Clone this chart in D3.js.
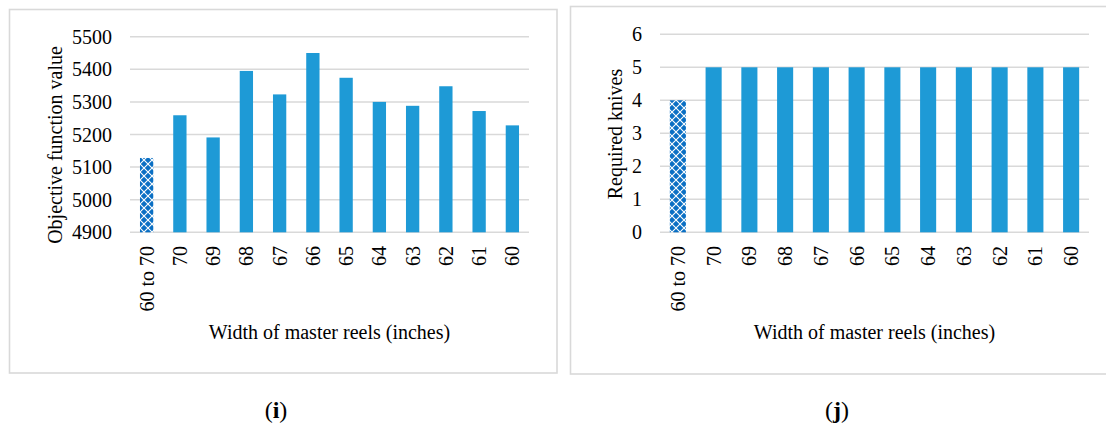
<!DOCTYPE html>
<html><head><meta charset="utf-8">
<script src="https://cdn.jsdelivr.net/npm/d3@7"></script>
<style>body{margin:0;background:#fff}svg{display:block}</style>
</head><body>
<svg id="c" width="1106" height="425" font-family="Liberation Serif"></svg>
<script>
const categories = ["60 to 70","70","69","68","67","66","65","64","63","62","61","60"];
const objectiveValues = [5128,5259,5191,5395,5323,5450,5374,5300,5288,5348,5272,5228];
const knivesValues = [4,5,5,5,5,5,5,5,5,5,5,5];
const objTicks = [4900,5000,5100,5200,5300,5400,5500];
const knifeTicks = [0,1,2,3,4,5,6];

const FONT = "Liberation Serif";
const FS = 20;
const svg = d3.select("#c");
const defs = svg.append("defs");
const pat = defs.append("pattern").attr("id","hatch").attr("patternUnits","userSpaceOnUse")
  .attr("width",8).attr("height",8);
pat.append("rect").attr("width",8).attr("height",8).attr("fill","#0a6fc4");
pat.append("path").attr("d","M0,0L8,8M8,0L0,8").attr("stroke","#fff").attr("stroke-width",1.1);

const GRID="#d9d9d9", BAR="#1e9ad6";

function panel(o){
  const g = svg.append("g").attr("font-family",FONT).attr("fill","#000");
  g.append("rect").attr("x",o.frame[0]).attr("y",o.frame[1]).attr("width",o.frame[2]).attr("height",o.frame[3])
    .attr("fill","none").attr("stroke",GRID).attr("stroke-width",1.6);
  const x = d3.scaleBand().domain(categories).range([o.x0,o.x1]).paddingInner(o.pad).paddingOuter(o.pad/2);
  const y = d3.scaleLinear().domain(o.domain).range([232.3, o.ytop]);
  g.append("g").selectAll("line").data(o.ticks).join("line")
    .attr("x1",o.x0).attr("x2",o.x1).attr("y1",d=>y(d)).attr("y2",d=>y(d))
    .attr("stroke",GRID).attr("stroke-width",1.5);
  g.append("g").selectAll("text").data(o.ticks).join("text")
    .attr("font-family",FONT)
    .attr("x",o.labelX).attr("y",d=>y(d)).attr("dy","0.35em").attr("text-anchor","end")
    .attr("font-size",FS).text(d=>d);
  g.append("g").selectAll("rect").data(o.values).join("rect")
    .attr("x",(d,i)=>x(categories[i])).attr("width",x.bandwidth())
    .attr("y",d=>y(d)).attr("height",d=>y(o.domain[0])-y(d))
    .attr("fill",(d,i)=>i===0?"url(#hatch)":BAR);
  g.append("g").selectAll("text").data(categories).join("text")
    .attr("font-family",FONT)
    .attr("transform",d=>`translate(${x(d)+x.bandwidth()/2},246) rotate(-90)`)
    .attr("dy","0.35em").attr("text-anchor","end").attr("font-size",FS).text(d=>d);
  g.append("text").attr("font-family",FONT).attr("transform",`translate(${o.ytX},${o.ytY}) rotate(-90)`).attr("dy","0.35em")
    .attr("text-anchor","middle").attr("font-size",FS).text(o.ytitle);
  g.append("text").attr("font-family",FONT).attr("x",(o.x0+o.x1)/2).attr("y",339).attr("text-anchor","middle")
    .attr("font-size",FS).text("Width of master reels (inches)");
  const cap = g.append("text").attr("font-family",FONT).attr("x",o.capX).attr("y",418).attr("text-anchor","middle").attr("font-size",24);
  cap.append("tspan").text("(");
  cap.append("tspan").attr("font-weight","bold").text(o.cap);
  cap.append("tspan").text(")");
}

panel({frame:[9.5,9.5,547.5,363.5], x0:130, x1:529, pad:0.6, domain:[4900,5500], ytop:36.7,
  ticks:objTicks, values:objectiveValues, labelX:112, ytitle:"Objective function value", ytX:55, ytY:145,
  cap:"i", capX:276});
panel({frame:[570.5,6.5,545,367.5], x0:660, x1:1089, pad:0.55, domain:[0,6], ytop:34.3,
  ticks:knifeTicks, values:knivesValues, labelX:642, ytitle:"Required knives", ytX:615, ytY:134,
  cap:"j", capX:837});
</script>
</body></html>
